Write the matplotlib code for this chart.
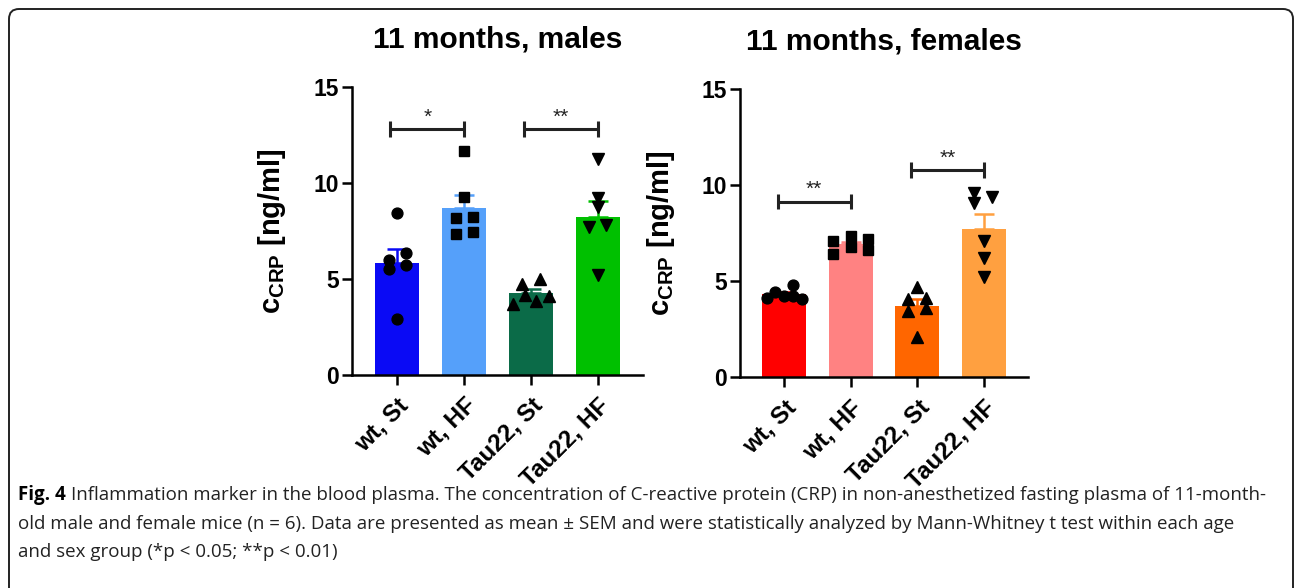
import matplotlib
matplotlib.use("Agg")
import matplotlib.pyplot as plt
from matplotlib import font_manager
from matplotlib.patches import FancyBboxPatch
from matplotlib.transforms import IdentityTransform
import numpy as np

# ---------------- data ----------------
categories = ["wt, St", "wt, HF", "Tau22, St", "Tau22, HF"]

males_means = [5.81, 8.67, 4.27, 8.24]
males_sem = [0.73, 0.68, 0.20, 0.83]
males_wt_st = [8.44, 5.96, 6.37, 5.51, 5.72, 2.91]
males_wt_hf = [11.65, 9.28, 8.15, 8.24, 7.32, 7.46]
males_tau_st = [4.76, 4.97, 4.15, 3.86, 4.10, 3.72]
males_tau_hf = [11.22, 9.19, 8.76, 7.72, 7.80, 5.20]

females_means = [4.34, 6.94, 3.71, 7.70]
females_sem = [0.11, 0.12, 0.35, 0.78]
females_wt_st = [4.11, 4.46, 4.25, 4.80, 4.25, 4.09]
females_wt_hf = [7.09, 6.40, 7.35, 6.80, 7.18, 6.62]
females_tau_st = [4.68, 4.09, 4.13, 3.47, 3.61, 2.12]
females_tau_hf = [9.61, 9.05, 9.40, 7.11, 6.23, 5.20]

males_sig = [(0, 1, 12.8, "*"), (2, 3, 12.8, "**")]
females_sig = [(0, 1, 9.14, "**"), (2, 3, 10.79, "**")]

yticks = [0, 5, 10, 15]
titles = ["11 months, males", "11 months, females"]
ylabel = r"$\mathbf{c_{CRP}}$ [ng/ml]"
caption_bold = "Fig. 4"
caption_lines = [
    "Inflammation marker in the blood plasma. The concentration of C-reactive protein (CRP) in non-anesthetized fasting plasma of 11-month-",
    "old male and female mice (n = 6). Data are presented as mean \u00b1 SEM and were statistically analyzed by Mann-Whitney t test within each age",
    "and sex group (*p < 0.05; **p < 0.01)",
]

# ---------------- style / layout ----------------
males_colors = ["#0A0AF5", "#55A0FA", "#0B6B48", "#00C000"]
females_colors = ["#FF0000", "#FF8282", "#FF6600", "#FFA040"]
markers = ["o", "s", "^", "v"]

# horizontal scatter offsets of the points (layout only)
males_offsets = [
    [0, -0.125, 0.14, -0.125, 0.14, 0],
    [0, 0, -0.125, 0.135, -0.125, 0.135],
    [-0.125, 0.135, -0.09, 0.085, 0.27, -0.265],
    [0, 0, 0, -0.125, 0.125, 0],
]
females_offsets = [
    [-0.265, -0.14, 0, 0.125, 0.135, 0.26],
    [-0.275, -0.275, 0, 0, 0.26, 0.26],
    [0, -0.135, 0.125, -0.135, 0.125, 0],
    [-0.15, -0.15, 0.125, 0, 0, 0],
]

available = {f.name for f in font_manager.fontManager.ttflist}
main_font = "Liberation Sans" if "Liberation Sans" in available else "DejaVu Sans"
cap_font = None
for cand in ["Liberation Sans Narrow", "Open Sans", "Lato", "Liberation Sans"]:
    if cand in available:
        cap_font = cand
        break

plt.rcParams["font.family"] = [main_font, "DejaVu Sans"]
plt.rcParams["mathtext.fontset"] = "custom"
plt.rcParams["mathtext.bf"] = main_font + ":bold"
plt.rcParams["mathtext.rm"] = main_font
plt.rcParams["mathtext.it"] = main_font + ":italic"

W, H = 1295, 588
fig = plt.figure(figsize=(W / 100, H / 100), dpi=100)


def px_axes(x0, x1, y_top, y_bot):
    return fig.add_axes([x0 / W, 1 - y_bot / H, (x1 - x0) / W, (y_bot - y_top) / H])


ax_m = px_axes(351.7, 643, 86.7, 375)
ax_f = px_axes(740, 1028, 89, 377.3)

panels = [
    (ax_m, males_means, males_sem, [males_wt_st, males_wt_hf, males_tau_st, males_tau_hf],
     males_offsets, males_colors, males_sig, (-0.68, 3.68)),
    (ax_f, females_means, females_sem, [females_wt_st, females_wt_hf, females_tau_st, females_tau_hf],
     females_offsets, females_colors, females_sig, (-0.665, 3.66)),
]

for ax, means, sems, pts, offs, cols, sigs, xl in panels:
    x = np.arange(len(categories))
    ax.bar(x, means, width=0.66, color=cols, edgecolor="none", zorder=2)
    for i in range(len(categories)):
        ax.errorbar(x[i], means[i], yerr=[[0], [sems[i]]], fmt="none", ecolor=cols[i],
                    elinewidth=1.8, capsize=7.5, capthick=1.8, zorder=3)
        xs = x[i] + np.array(offs[i])
        ax.plot(xs, pts[i], linestyle="none", marker=markers[i], color="black",
                markersize=7.8 if markers[i] in ("o", "s") else 8.3, zorder=4)
    for a, b, yv, star in sigs:
        xa, xb = x[a] - 0.1, x[b]
        ax.plot([xa, xb], [yv, yv], color="#222222", lw=2.2, zorder=5, solid_capstyle="butt")
        for xe in (xa, xb):
            ax.plot([xe, xe], [yv - 0.4, yv + 0.4], color="#222222", lw=2.2, zorder=5,
                    solid_capstyle="butt")
        ax.text((xa + xb) / 2, yv + 0.12, star, ha="center", va="bottom", fontsize=15,
                color="#222222")
    ax.set_xlim(*xl)
    ax.set_ylim(0, 15)
    ax.set_yticks(yticks)
    ax.set_yticklabels([str(t) for t in yticks], fontsize=16.5, fontweight="bold")
    ax.set_xticks(x)
    ax.set_xticklabels(categories, fontsize=17.5, fontweight="bold", rotation=45,
                       ha="right", va="top", rotation_mode="anchor")
    for s in ("top", "right"):
        ax.spines[s].set_visible(False)
    for s in ("left", "bottom"):
        ax.spines[s].set_linewidth(1.8)
        ax.spines[s].set_color("black")
    ax.tick_params(axis="both", width=1.8, length=7.5, color="black")
    ax.tick_params(axis="y", pad=2)
    ax.tick_params(axis="x", pad=6)
    ax.set_ylabel(ylabel, fontsize=21, fontweight="bold")
    ax.yaxis.set_label_coords(-0.218, 0.5)
    ax.patch.set_visible(False)

# titles
fig.text(498 / W, 1 - 47 / H, titles[0], ha="center", va="baseline", fontsize=21.5,
         fontweight="bold")
fig.text(884 / W, 1 - 50 / H, titles[1], ha="center", va="baseline", fontsize=21.5,
         fontweight="bold")

# border
box = FancyBboxPatch((9, -30), 1284, 588 - 9 + 30, boxstyle="round,pad=0,rounding_size=10",
                     transform=IdentityTransform(), facecolor="none", edgecolor="#222222",
                     linewidth=1.4)
fig.patches.append(box)

# caption
renderer = fig.canvas.get_renderer()
cap_size = 15
x_start = 18
target_w = 1263 - 18
baselines = [500, 529, 557]
tb = fig.text(x_start / W, 1 - baselines[0] / H, caption_bold, fontsize=cap_size,
              fontweight="bold", family=cap_font, va="baseline")
t1 = fig.text(0, 1 - baselines[0] / H, caption_lines[0], fontsize=cap_size, family=cap_font,
              va="baseline")
wb = tb.get_window_extent(renderer).width
w1 = t1.get_window_extent(renderer).width
scale = target_w / (wb + 5 + w1)
cap_size *= scale
tb.set_fontsize(cap_size)
t1.set_fontsize(cap_size)
wb = tb.get_window_extent(renderer).width
t1.set_x((x_start + wb + 5) / W)
for ln, bl in zip(caption_lines[1:], baselines[1:]):
    fig.text(x_start / W, 1 - bl / H, ln, fontsize=cap_size, family=cap_font,
             va="baseline", color="#222222")
t1.set_color("#222222")

fig.savefig("out.png", dpi=100)
